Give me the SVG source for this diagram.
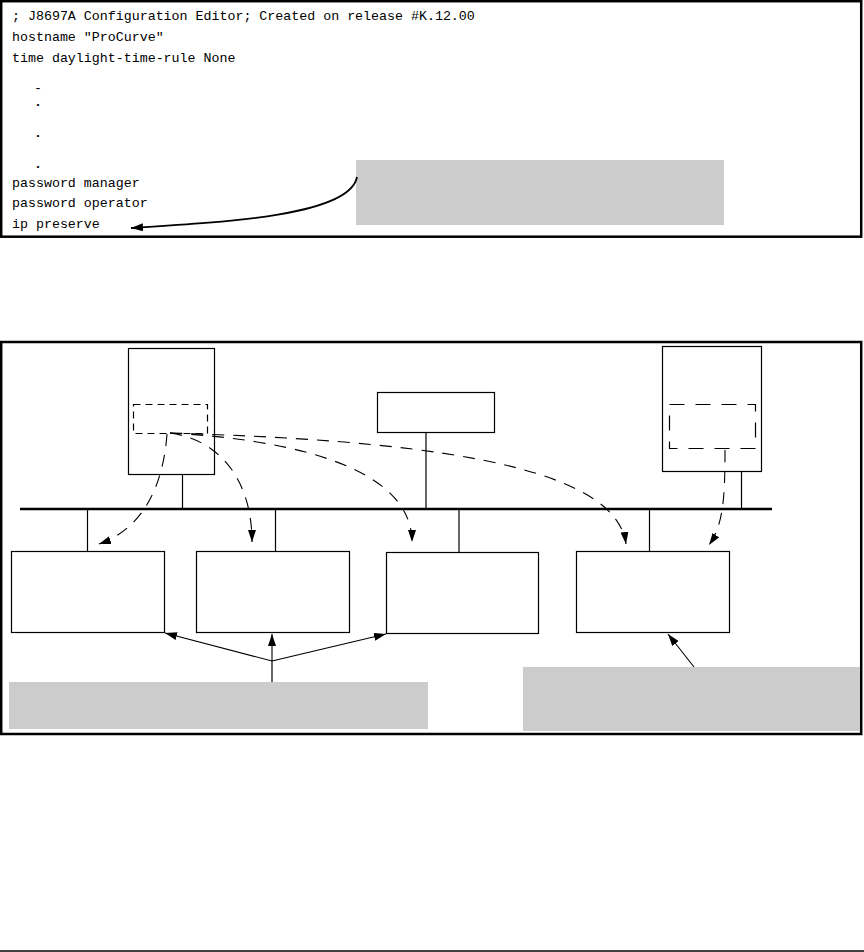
<svg xmlns="http://www.w3.org/2000/svg" width="864" height="952" viewBox="0 0 864 952">
<style>
.frame{fill:none;stroke:#000;stroke-width:2.5}
.box{fill:#fff;stroke:#000;stroke-width:1.2}
.note{fill:#cccccc;stroke:none}
.inner{fill:none;stroke:#000;stroke-width:1.2;stroke-dasharray:7,5}
.inner2{fill:none;stroke:#000;stroke-width:1.2;stroke-dasharray:15,11}
.wire{stroke:#000;stroke-width:1.2;fill:none}
.bus{stroke:#000;stroke-width:2.5;fill:none}
.dash{fill:none;stroke:#000;stroke-width:1.1;stroke-dasharray:12,9;marker-end:url(#ah)}
.solid{fill:none;stroke:#000;stroke-width:1.1;marker-end:url(#ah)}
.code{font-family:"Liberation Mono","Courier New",monospace;font-size:13.3px;fill:#000}
</style>
<defs>
<marker id="ah" markerUnits="userSpaceOnUse" markerWidth="14" markerHeight="9" refX="12" refY="4" orient="auto">
<path d="M0,0 L12,4 L0,8 z" fill="#000"/>
</marker>
</defs>
<rect width="864" height="952" fill="#fff"/>

<g id="config-panel">
<rect class="frame" x="1.2" y="1.2" width="860" height="235.5"/>
<text class="code" x="12" y="20">; J8697A Configuration Editor; Created on release #K.12.00</text>
<text class="code" x="12" y="41">hostname "ProCurve"</text>
<text class="code" x="12" y="62">time daylight-time-rule None</text>
<text class="code" x="34" y="92">-</text>
<text class="code" x="34" y="106" font-weight="bold">.</text>
<text class="code" x="34" y="137" font-weight="bold">.</text>
<text class="code" x="34" y="168" font-weight="bold">.</text>
<text class="code" x="12" y="186.5">password manager</text>
<text class="code" x="12" y="207">password operator</text>
<text class="code" x="12" y="228">ip preserve</text>
</g>
<g id="config-note">
<rect class="note" x="356" y="160" width="368" height="65"/>
</g>

<g id="network-panel">
<rect class="frame" x="1.2" y="342" width="860" height="392"/>
<line class="bus" x1="20" y1="509" x2="772" y2="509"/>
</g>

<g id="server-left">
<rect class="box" x="128.5" y="348.5" width="86" height="126"/>
<rect class="inner" x="133.5" y="404.5" width="74" height="29"/>
</g>
<g id="server-mid">
<rect class="box" x="377.5" y="392.5" width="117" height="40"/>
</g>
<g id="server-right">
<rect class="box" x="662.5" y="346.5" width="99" height="125"/>
<rect class="inner2" x="669.5" y="404.5" width="86" height="44"/>
</g>
<g id="client-1"><rect class="box" x="11.5" y="551.5" width="153" height="81"/></g>
<g id="client-2"><rect class="box" x="196.5" y="551.5" width="153" height="81"/></g>
<g id="client-3"><rect class="box" x="386.5" y="552.5" width="152" height="81"/></g>
<g id="client-4"><rect class="box" x="576.5" y="551.5" width="153" height="81"/></g>
<g id="note-left"><rect class="note" x="9" y="682" width="419" height="47"/></g>
<g id="note-right"><rect class="note" x="523" y="667" width="337" height="64"/></g>

<g id="connectors">
<line class="wire" x1="182.5" y1="474.5" x2="182.5" y2="509"/>
<line class="wire" x1="426" y1="432.5" x2="426" y2="509"/>
<line class="wire" x1="741.5" y1="471.5" x2="741.5" y2="509"/>
<line class="wire" x1="87.5" y1="509" x2="87.5" y2="551.5"/>
<line class="wire" x1="275.5" y1="509" x2="275.5" y2="551.5"/>
<line class="wire" x1="459" y1="509" x2="459" y2="552.5"/>
<line class="wire" x1="649.5" y1="509" x2="649.5" y2="551.5"/>

<path class="dash" d="M167,434 C163,490 140,530 99,544"/>
<path class="dash" d="M170,433 C220,440 252,480 252,542"/>
<path class="dash" d="M170,433 C300,440 412,470 412,542"/>
<path class="dash" d="M170,433 C400,440 615,460 626,544"/>
<path class="dash" d="M725,450 C725,500 723,525 709,545"/>

<path class="solid" style="stroke-width:1.8" d="M357,177 C350,215 230,222 131,228"/>
<line class="wire" x1="272" y1="682" x2="272" y2="661"/>
<line class="solid" x1="272" y1="661" x2="165" y2="633"/>
<line class="solid" x1="272" y1="661" x2="272" y2="634"/>
<line class="solid" x1="272" y1="661" x2="386" y2="634"/>
<line class="solid" x1="694" y1="667" x2="668" y2="634"/>
</g>

<line x1="0" y1="951" x2="864" y2="951" stroke="#000" stroke-width="1.5"/>
</svg>
